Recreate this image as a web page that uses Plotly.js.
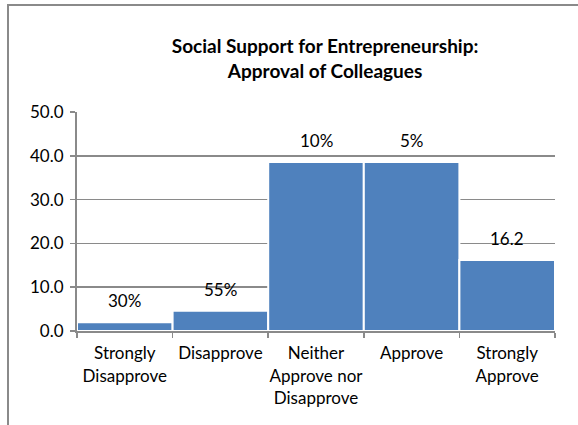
<!DOCTYPE html>
<html>
<head>
<meta charset="utf-8">
<script src="https://cdn.plot.ly/plotly-3.0.1.min.js"></script>
<style>
  html, body { margin: 0; padding: 0; background: #fff; overflow: hidden; }
  #wrap { position: relative; width: 578px; height: 425px; overflow: hidden; }
  #chart { position: absolute; left: 0; top: 0; width: 578px; height: 425px; }
  #frame { position: absolute; left: 7px; top: 4px; width: 569px; height: 419px;
           border-left: 2px solid #8a8a8a; border-top: 2px solid #8a8a8a; pointer-events: none; }
</style>
</head>
<body>
<div id="wrap">
  <div id="chart"></div>
  <div id="frame"></div>
</div>
<script>
const categories = ["Strongly<br>Disapprove", "Disapprove", "Neither<br>Approve nor<br>Disapprove", "Approve", "Strongly<br>Approve"];
const values = [2.0, 4.6, 38.6, 38.6, 16.2];
const barLabels = ["30%", "55%", "10%", "5%", "16.2"];
const yTicks = [0, 10, 20, 30, 40, 50];

const fontFam = "Lato, 'Liberation Sans', sans-serif";

const trace = {
  type: "bar",
  x: categories,
  y: values,
  marker: { color: "#4F81BD", line: { color: "#ffffff", width: 2 } },
  hoverinfo: "none"
};

const annotations = categories.map((c, i) => ({
  x: c, y: values[i], xref: "x", yref: "y",
  text: barLabels[i], showarrow: false,
  yanchor: "bottom", yshift: 9,
  font: { family: fontFam, size: 17, color: "#000" }
}));

const layout = {
  width: 578, height: 425,
  margin: { l: 77, r: 23, t: 112, b: 94 },
  paper_bgcolor: "#fff", plot_bgcolor: "#fff",
  showlegend: false,
  bargap: 0,
  title: {
    text: "<b>Social Support for Entrepreneurship:<br>Approval of Colleagues</b>",
    x: 0.519, xref: "paper", xanchor: "center",
    y: 0.875, yref: "container", yanchor: "top",
    font: { family: fontFam, size: 19, color: "#000" }
  },
  xaxis: {
    type: "category",
    tickangle: 0,
    showline: true, linecolor: "#8a8a8a", linewidth: 2,
    ticks: "outside", tickson: "boundaries", ticklen: 5, tickcolor: "#8a8a8a", tickwidth: 1.5,
    showgrid: false,
    ticklabelstandoff: 6,
    tickfont: { family: fontFam, size: 17, color: "#000" },
    fixedrange: true
  },
  yaxis: {
    range: [0, 50],
    tickvals: yTicks,
    tickformat: ".1f",
    showline: true, linecolor: "#8a8a8a", linewidth: 2,
    ticks: "outside", ticklen: 5, tickcolor: "#8a8a8a", tickwidth: 1.5,
    showgrid: true, gridcolor: "#8a8a8a", gridwidth: 1.5,
    zeroline: false,
    ticklabelstandoff: 3,
    tickfont: { family: fontFam, size: 17, color: "#000" },
    fixedrange: true
  },
  annotations: annotations
};

Plotly.newPlot("chart", [trace], layout, { displayModeBar: false, staticPlot: true });
</script>
</body>
</html>
